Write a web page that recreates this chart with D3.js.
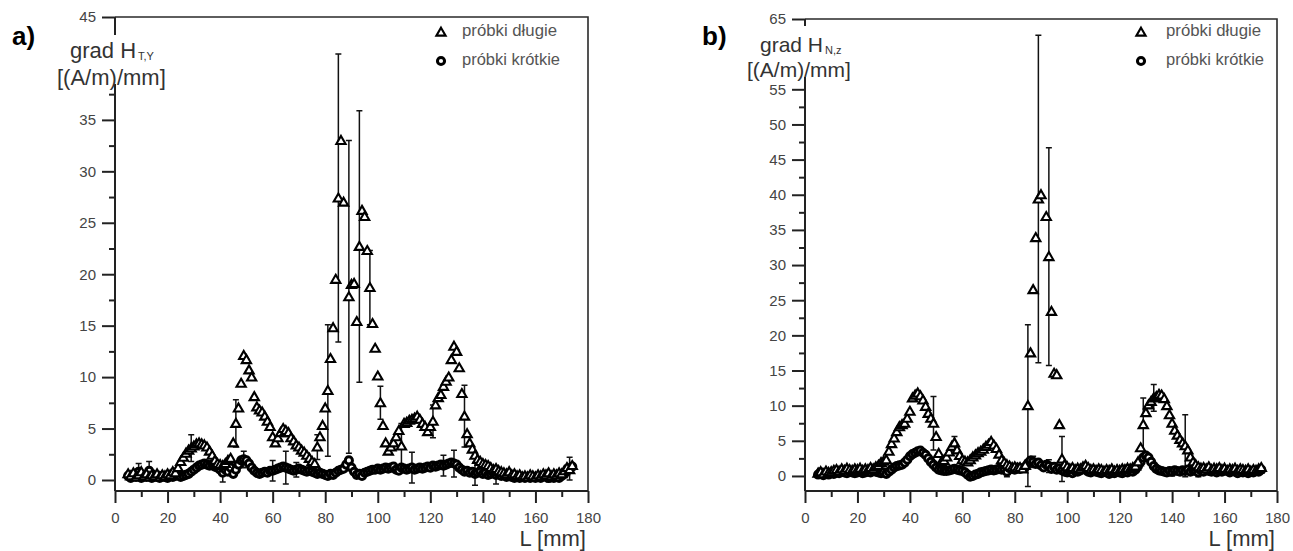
<!DOCTYPE html>
<html>
<head>
<meta charset="utf-8">
<script src="https://cdn.jsdelivr.net/npm/d3@7"></script>
<style>
  body { margin: 0; background: #fff; }
  svg { display: block; }
  text { font-family: "Liberation Sans", Arial, Helvetica, sans-serif; }
</style>
</head>
<body>
<svg id="fig" width="1293" height="551"></svg>
<script>
// Measurement positions along the sample, L [mm]
const positions = d3.range(5, 175);

// a) grad H_T,Y [(A/m)/mm]
const dlugieA = [
  0.6, 0.4, 0.7, 0.3, 0.5, 0.8, 0.4, 0.6, 0.3, 0.5,
  0.4, 0.6, 0.3, 0.5, 0.4, 0.6, 0.5, 0.8, 0.7, 1.2,
  1.8, 2.2, 2.6, 2.9, 3.1, 3.3, 3.5, 3.6, 3.5, 3.4,
  3.2, 2.8, 2.4, 1.9, 1.6, 1.5, 1.4, 1.6, 1.9, 2.1,
  3.6, 5.5, 7.0, 9.4, 12.1, 11.7, 10.7, 10.0, 8.1, 7.1,
  6.8, 6.6, 6.2, 5.7, 5.2, 4.2, 3.6, 4.1, 4.6, 5.0,
  4.8, 4.6, 4.1, 3.8, 3.4, 3.2, 2.9, 2.7, 2.4, 2.1,
  1.8, 1.6, 3.2, 4.2, 5.3, 7.0, 8.7, 11.8, 14.8, 19.5,
  27.4, 33.0, 27.0, null, 17.8, 19.0, 19.1, 15.4, 22.7, 26.2,
  25.6, 22.3, 18.7, 15.2, 12.8, 10.1, 7.5, 5.3, 3.6, 2.8,
  3.2, 3.6, 4.2, 4.8, 3.3, 5.5, 5.6, 5.8, 5.9, 6.0,
  6.2, 5.9, 5.5, 5.2, 4.7, 5.2, 5.7, 7.3, 8.0, 8.3,
  9.1, 9.6, 10.0, 11.7, 13.0, 12.5, 10.9, 8.4, 6.2, 4.5,
  3.6, 3.0, 2.4, 2.0, 1.8, 1.6, 1.5, 1.4, 1.2, 1.0,
  1.1, 0.9, 0.8, 0.7, 0.6, 0.8, 0.5, 0.6, 0.4, 0.5,
  0.3, 0.4, 0.3, 0.5, 0.4, 0.3, 0.5, 0.4, 0.6, 0.5,
  0.7, 0.4, 0.6, 0.5, 0.7, 0.6, 0.9, 1.2, 1.0, 1.4
];
const krotkieA = [
  0.4, 0.2, 0.5, 0.3, 0.8, 0.2, 0.4, 0.3, 0.9, 0.2,
  0.4, 0.3, 0.2, 0.4, 0.3, 0.2, 0.4, 0.3, 0.4, 0.5,
  0.3, 0.4, 0.5, 0.6, 0.8, 1.0, 1.2, 1.4, 1.5, 1.6,
  1.5, 1.4, 1.5, 1.3, 1.2, 1.0, 0.7, 1.0, 0.8, 1.2,
  0.6, 1.0, 1.5, 1.9, 2.0, 1.9, 1.6, 1.2, 0.9, 0.7,
  0.6, 0.7, 0.8, 0.7, 0.9, 0.9, 1.0, 1.1, 1.2, 1.3,
  1.2, 1.1, 1.0, 0.9, 1.0, 1.1, 1.0, 0.9, 0.8, 0.9,
  0.8, 0.7, 0.6, 0.7, 0.6, 0.5, 0.4, 0.6, 0.5, 0.7,
  0.9, 1.0, 1.1, 1.5, 1.9, 1.2, 0.8, 0.5, 0.6, 0.4,
  0.7, 0.8, 0.9, 1.0, 1.0, 1.1, 1.0, 1.1, 1.2, 1.1,
  1.2, 1.3, 1.0, 0.9, 1.2, 1.1, 1.0, 1.1, 1.2, 1.0,
  1.1, 1.2, 1.1, 1.2, 1.3, 1.2, 1.4, 1.3, 1.4, 1.5,
  1.4, 1.5, 1.6, 1.7, 1.6, 1.5, 1.2, 1.0, 0.8, 0.9,
  0.7, 0.8, 0.6, 0.7, 0.8, 0.6, 0.7, 0.5, 0.6, 0.7,
  0.5, 0.6, 0.4, 0.5, 0.3, 0.4, 0.3, 0.2, 0.3, 0.2,
  0.3, 0.2, 0.3, 0.2, 0.3, 0.2, 0.3, 0.2, 0.4, 0.3,
  0.2, 0.3, 0.2, 0.3, 0.2, 0.4, 0.6, 0.9, 1.1, 1.3
];
// [L, half-width of the error bar]
const errDlugieA = [[29, 1.3], [46, 2.3], [77, 1.2], [81, 6.4], [85, 14.0], [89, 15.2],
  [93, 13.2], [97, 3.6], [101, 1.6], [109, 2.2], [121, 1.6], [133, 3.0]];
const errKrotkieA = [[9, 0.8], [13, 0.9], [41, 0.9], [49, 0.8], [60, 1.0], [65, 1.6],
  [69, 0.7], [113, 1.5], [125, 1.0], [129, 1.3], [137, 1.1], [145, 0.9], [165, 0.4], [173, 1.1]];

// b) grad H_N,z [(A/m)/mm]
const dlugieB = [
  0.4, 0.6, 0.3, 0.7, 0.5, 0.6, 0.8, 0.9, 0.7, 1.0,
  0.8, 1.1, 0.9, 0.8, 1.0, 0.9, 1.1, 0.8, 1.0, 0.9,
  1.2, 1.0, 1.3, 1.5, 1.9, 2.1, 2.3, 3.5, 4.6, 5.4,
  6.3, 7.0, 7.3, 7.5, 8.2, 9.2, 11.1, 11.5, 11.8, 11.4,
  10.8, 9.9, 8.9, 8.2, 7.5, 5.6, 3.2, 2.0, 2.2, 2.7,
  3.4, 4.2, 4.7, 3.7, 2.9, 2.3, 2.1, 2.0, 2.3, 2.7,
  3.0, 3.3, 3.5, 3.8, 4.2, 4.5, 4.9, 4.4, 3.9, 3.1,
  2.3, 1.9, 1.6, 1.4, 1.2, 1.3, 1.1, 1.2, 1.0, 1.5,
  10.0, 17.5, 26.5, 33.9, 39.4, 40.0, null, 36.9, 31.2, 23.4,
  14.6, 14.4, 7.3, 2.4, 1.6, 1.3, 1.0, 1.2, 0.9, 1.1,
  1.0, 1.3, 1.5, 1.2, 0.9, 1.0, 0.8, 1.0, 0.9, 0.7,
  0.9, 0.8, 1.0, 0.7, 0.9, 0.8, 1.0, 0.9, 1.1, 1.0,
  1.2, 1.4, 2.0, 4.0, 7.3, 9.0, 10.1, 10.6, 11.1, 11.3,
  11.6, 11.5, 11.0, 10.0, 8.7, 7.5, 6.5, 5.8, 5.2, 4.7,
  4.3, 3.7, 2.7, 2.0, 1.6, 1.3, 1.1, 1.2, 1.0, 1.3,
  0.9, 1.1, 1.0, 1.2, 0.9, 1.1, 0.8, 1.0, 0.9, 1.1,
  0.8, 1.0, 0.9, 0.8, 1.0, 0.7, 0.9, 0.8, 1.0, 1.2
];
const krotkieB = [
  0.2, 0.5, 0.1, 0.3, 0.2, 0.4, 0.3, 0.5, 0.4, 0.6,
  0.5, 0.4, 0.6, 0.5, 0.4, 0.5, 0.6, 0.4, 0.5, 0.6,
  0.5, 0.7, 0.6, 0.5, 0.4, 0.5, 0.3, 0.6, 0.9, 1.2,
  1.4, 1.5, 1.6, 1.9, 2.3, 2.8, 3.1, 3.3, 3.5, 3.6,
  3.3, 3.0, 2.5, 2.0, 1.6, 1.2, 0.9, 0.8, 0.7, 0.7,
  0.8, 0.9, 1.0, 0.9, 0.8, 0.7, 0.5, 0.2, -0.1, 0.0,
  0.2, 0.3, 0.5, 0.6, 0.7, 0.8, 0.9, 0.8, 0.9, 1.0,
  0.9, 1.0, 0.6, 1.1, 1.0, 0.9, 1.2, 1.0, 1.1, 1.3,
  1.8, 2.2, 2.0, 1.7, 1.9, 1.5, 1.2, 1.6, 1.4, 1.0,
  1.3, 0.9, 1.1, 0.8, 0.6, 0.5, 0.6, 0.4, 0.7, 0.6,
  0.8, 1.0, 0.9, 0.6, 0.5, 0.7, 0.6, 0.5, 0.4, 0.6,
  0.5, 0.3, 0.5, 0.4, 0.6, 0.5, 0.4, 0.6, 0.5, 0.7,
  0.6, 0.9, 1.4, 2.0, 2.6, 2.9, 2.6, 2.0, 1.4, 1.0,
  0.8, 0.7, 0.6, 0.5, 0.7, 0.6, 0.8, 0.7, 0.6, 0.8,
  0.7, 0.9, 0.6, 0.8, 0.7, 0.5, 0.8, 0.6, 0.9, 0.7,
  0.6, 0.8, 0.5, 0.7, 0.6, 0.8, 0.7, 0.5, 0.7, 0.6,
  0.4, 0.6, 0.5, 0.7, 0.4, 0.6, 0.5, 0.7, 0.6, 0.9
];
const errDlugieB = [[49, 3.8], [57, 0.9], [85, 11.5], [89, 23.3], [93, 15.5], [98, 3.2],
  [129, 3.8], [133, 1.9], [145, 4.4]];
const errKrotkieB = [[77, 0.7], [87, 0.8], [93, 0.9], [140, 0.6], [150, 0.6], [156, 0.5]];

const xTicks = d3.range(0, 181, 20);
const xMinor = d3.range(10, 180, 20);
const yTicksA = d3.range(0, 46, 5);
const yTicksB = d3.range(0, 66, 5);
const legendNames = ["próbki długie", "próbki krótkie"];

const svg = d3.select("#fig");

const panels = [
  { tag: "a)", sub: "T,Y", series: [dlugieA, krotkieA], errs: [errDlugieA, errKrotkieA],
    yTicks: yTicksA, yDomain: [-1.07, 45], left: 115, right: 588, top: 17, bottom: 491,
    maskTop: 35, maskBottom: 84, gradY: 58, unitY: 85, titleSize: 22, legendX: 441, textX: 462 },
  { tag: "b)", sub: "N,z", series: [dlugieB, krotkieB], errs: [errDlugieB, errKrotkieB],
    yTicks: yTicksB, yDomain: [-2.14, 65], left: 805, right: 1277, top: 19, bottom: 491,
    maskTop: 26, maskBottom: 77, gradY: 52, unitY: 76.5, titleSize: 21, legendX: 1141, textX: 1166 }
];

const triangle = d3.symbol().type(d3.symbolTriangle).size(37);
const circle = d3.symbol().type(d3.symbolCircle).size(40);

panels.forEach(p => {
  const g = svg.append("g");
  const x = d3.scaleLinear().domain([0, 180]).range([p.left, p.right]);
  const y = d3.scaleLinear().domain(p.yDomain).range([p.bottom, p.top]);
  // tick labels that sit under the axis title are not printed
  const hidden = v => y(v) > p.maskTop - 4 && y(v) < p.maskBottom + 2;

  // frame (top and right edges)
  g.append("path")
    .attr("d", `M${p.left},${p.top}H${p.right}V${p.bottom}`)
    .attr("fill", "none").attr("stroke", "#2a2a2a").attr("stroke-width", 1.6);

  // y axis: major + minor ticks
  const yMinor = d3.range(2.5, p.yDomain[1], 5);
  const yAx = g.append("g").attr("transform", `translate(${p.left},0)`)
    .call(d3.axisLeft(y).tickValues(p.yTicks).tickSize(13).tickPadding(6).tickFormat(d3.format("d")));
  yAx.selectAll(".tick").filter(v => hidden(v)).select("text").remove();
  g.append("g").attr("transform", `translate(${p.left},0)`)
    .call(d3.axisLeft(y).tickValues(yMinor).tickSize(6).tickFormat(""))
    .call(a => a.selectAll("text").remove())
    .select(".domain").remove();
  yAx.select(".domain").remove();

  // x axis: major + minor ticks
  const xAx = g.append("g").attr("transform", `translate(0,${p.bottom})`)
    .call(d3.axisBottom(x).tickValues(xTicks).tickSize(12).tickPadding(9).tickFormat(d3.format("d")));
  g.append("g").attr("transform", `translate(0,${p.bottom})`)
    .call(d3.axisBottom(x).tickValues(xMinor).tickSize(6).tickFormat(""))
    .call(a => a.selectAll("text").remove())
    .select(".domain").remove();
  xAx.select(".domain").remove();

  g.selectAll(".tick line").attr("stroke", "#222").attr("stroke-width", 2);
  g.selectAll(".tick text").attr("font-size", 15).attr("fill", "#444")
    .attr("font-family", "'Liberation Sans', Arial, sans-serif");

  g.append("line").attr("x1", p.left).attr("x2", p.left).attr("y1", p.top).attr("y2", p.bottom)
    .attr("stroke", "#222").attr("stroke-width", 2);
  g.append("line").attr("x1", p.left).attr("x2", p.right).attr("y1", p.bottom).attr("y2", p.bottom)
    .attr("stroke", "#222").attr("stroke-width", 2);

  // error bars
  p.series.forEach((vals, si) => {
    const bars = p.errs[si].map(([L, e]) => ({ L, v: vals[positions.indexOf(L)], e }));
    const eb = g.append("g").attr("stroke", "#111").attr("stroke-width", 1.5).attr("fill", "none");
    eb.selectAll("path").data(bars).join("path")
      .attr("d", d => {
        const cx = x(d.L), y1 = y(d.v + d.e), y2 = y(d.v - d.e);
        return `M${cx},${y1}V${y2}M${cx - 3},${y1}H${cx + 3}M${cx - 3},${y2}H${cx + 3}`;
      });
  });

  // markers: short samples (circles) then long samples (triangles)
  const pts = (vals) => positions.map((L, i) => ({ L, v: vals[i] })).filter(d => d.v !== null);
  g.append("g").selectAll("path").data(pts(p.series[1])).join("path")
    .attr("d", circle)
    .attr("transform", d => `translate(${x(d.L)},${y(d.v)})`)
    .attr("fill", "#fff").attr("stroke", "#000").attr("stroke-width", 3);
  g.append("g").selectAll("path").data(pts(p.series[0])).join("path")
    .attr("d", triangle)
    .attr("transform", d => `translate(${x(d.L)},${y(d.v) + 0.8})`)
    .attr("fill", "#fff").attr("stroke", "#000").attr("stroke-width", 2.1);

  // y axis title, set over a white patch that hides the top of the axis
  g.append("rect").attr("x", p.left - 60).attr("y", p.maskTop)
    .attr("width", 112).attr("height", p.maskBottom - p.maskTop).attr("fill", "#fff");
  const t1 = g.append("text").attr("x", p.left - 45).attr("y", p.gradY)
    .attr("font-size", p.titleSize).attr("fill", "#333");
  t1.append("tspan").text("grad H");
  t1.append("tspan").attr("font-size", 11).attr("dy", 2).attr("dx", 2).text(p.sub);
  g.append("text").attr("x", p.left - 58).attr("y", p.unitY)
    .attr("font-size", p.titleSize).attr("fill", "#333").text("[(A/m)/mm]");

  // x axis title
  g.append("text").attr("x", p.right - 2).attr("y", 546).attr("text-anchor", "end")
    .attr("font-size", 22).attr("fill", "#333").text("L [mm]");

  // panel tag
  g.append("text").attr("x", p.left - 103).attr("y", 45)
    .attr("font-size", 26).attr("font-weight", "bold").attr("fill", "#000").text(p.tag);

  // legend
  const lg = g.append("g");
  lg.append("path").attr("d", triangle)
    .attr("transform", `translate(${p.legendX},33)`)
    .attr("fill", "#fff").attr("stroke", "#000").attr("stroke-width", 2.1);
  lg.append("path").attr("d", circle)
    .attr("transform", `translate(${p.legendX},61)`)
    .attr("fill", "#fff").attr("stroke", "#000").attr("stroke-width", 3);
  legendNames.forEach((name, i) => {
    lg.append("text").attr("x", p.textX).attr("y", 36 + i * 29)
      .attr("font-size", 16).attr("fill", "#555")
      .attr("textLength", i === 0 ? 95 : 98).attr("lengthAdjust", "spacingAndGlyphs")
      .text(name);
  });
});
</script>
</body>
</html>
